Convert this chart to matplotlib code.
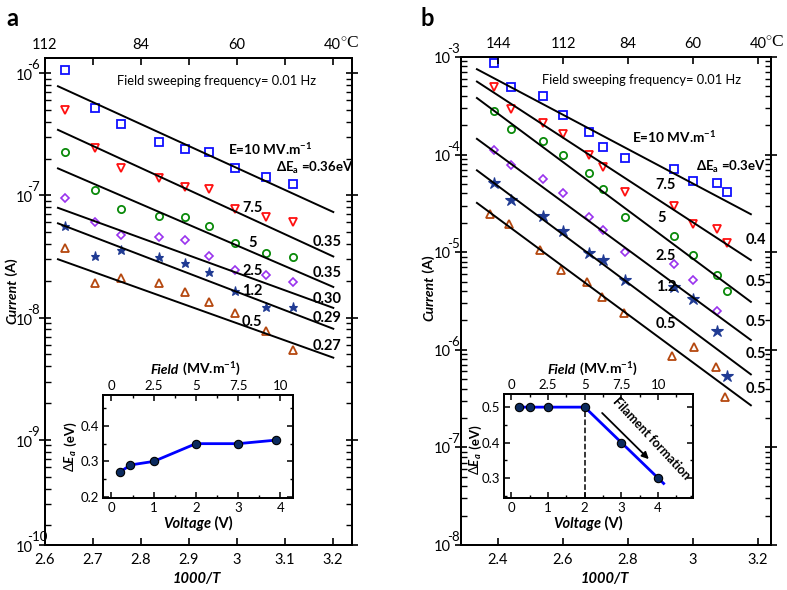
import numpy as np
import matplotlib
matplotlib.use("Agg")
import matplotlib.pyplot as plt
from matplotlib.ticker import FixedLocator, MultipleLocator, NullFormatter

plt.rcParams['font.family'] = ['Lato', 'DejaVu Sans']
plt.rcParams['mathtext.fontset'] = 'custom'
plt.rcParams['mathtext.rm'] = 'Lato'
plt.rcParams['mathtext.it'] = 'Lato:italic:bold'
plt.rcParams['mathtext.bf'] = 'Lato:bold'

# ---------------- data: panel a ----------------
xa = [2.642, 2.704, 2.759, 2.838, 2.892, 2.942, 2.997, 3.061, 3.118]
a_E10 = [1.06e-6, 5.2e-7, 3.8e-7, 2.75e-7, 2.4e-7, 2.26e-7, 1.66e-7, 1.41e-7, 1.23e-7]
a_E75 = [5.0e-7, 2.45e-7, 1.66e-7, 1.38e-7, 1.17e-7, 1.12e-7, 7.8e-8, 6.6e-8, 6.0e-8]
a_E5 = [2.24e-7, 1.10e-7, 7.8e-8, 6.8e-8, 6.6e-8, 5.6e-8, 4.1e-8, 3.4e-8, 3.1e-8]
a_E25 = [9.5e-8, 6.0e-8, 4.7e-8, 4.6e-8, 4.3e-8, 3.2e-8, 2.45e-8, 2.24e-8, 1.95e-8]
a_E12 = [5.6e-8, 3.2e-8, 3.6e-8, 3.1e-8, 2.8e-8, 2.35e-8, 1.66e-8, 1.23e-8, 1.23e-8]
a_E05 = [3.7e-8, 1.9e-8, 2.1e-8, 1.9e-8, 1.62e-8, 1.35e-8, 1.10e-8, 7.8e-9, 5.4e-9]
a_fit_x = [2.627, 3.201]
a_fit_start = [7.8e-7, 3.43e-7, 1.66e-7, 7.9e-8, 5.9e-8, 3.0e-8]
a_fit_end = [7.3e-8, 3.16e-8, 1.78e-8, 1.2e-8, 8.1e-9, 4.7e-9]
a_field_labels = ["7.5", "5", "2.5", "1.2", "0.5"]
a_dE_labels = ["0.35", "0.35", "0.30", "0.29", "0.27"]
a_xticks = [2.6, 2.7, 2.8, 2.9, 3.0, 3.1, 3.2]
a_xticklabels = ["2.6", "2.7", "2.8", "2.9", "3", "3.1", "3.2"]
a_top_ticks = [2.6, 2.8, 3.0, 3.2]
a_top_labels = ["112", "84", "60", "40"]
a_yexp = ["-6", "-7", "-8", "-9", "-10"]
a_volt = [0.2, 0.45, 1, 2, 3, 3.9]
a_dEa = [0.27, 0.29, 0.30, 0.35, 0.35, 0.36]

# ---------------- data: panel b ----------------
xb = [2.388, 2.44, 2.538, 2.6, 2.68, 2.723, 2.791, 2.942, 3.0, 3.074, 3.105]
xb_tri = [2.375, 2.434, 2.529, 2.594, 2.674, 2.72, 2.788, 2.935, 3.003, 3.071, 3.098]
b_E10 = [8.7e-4, 4.9e-4, 4.0e-4, 2.57e-4, 1.70e-4, 1.20e-4, 9.3e-5, 7.1e-5, 5.4e-5, 5.1e-5, 4.1e-5]
b_E75 = [4.9e-4, 2.9e-4, 2.1e-4, 1.62e-4, 1.0e-4, 7.4e-5, 4.1e-5, 3.0e-5, 1.95e-5, 1.74e-5, 1.23e-5]
b_E5 = [2.8e-4, 1.82e-4, 1.38e-4, 1.0e-4, 6.5e-5, 4.4e-5, 2.3e-5, 1.45e-5, 9.3e-6, 5.9e-6, 4.0e-6]
b_E25 = [1.12e-4, 7.9e-5, 5.6e-5, 4.0e-5, 2.3e-5, 1.7e-5, 1.0e-5, 7.6e-6, 5.2e-6, 2.5e-6]
b_E12 = [5.1e-5, 3.4e-5, 2.35e-5, 1.66e-5, 9.8e-6, 8.3e-6, 5.2e-6, 4.4e-6, 3.3e-6, 1.55e-6, 5.4e-7]
b_E05 = [2.45e-5, 1.95e-5, 1.05e-5, 6.6e-6, 5.0e-6, 3.5e-6, 2.4e-6, 8.7e-7, 1.07e-6, 6.6e-7, 3.3e-7]
b_fit_x = [2.335, 3.178]
b_fit_start = [7.5e-4, 5.6e-4, 3.8e-4, 1.45e-4, 6.9e-5, 3.2e-5]
b_fit_end = [2.45e-5, 8.3e-6, 3.1e-6, 1.26e-6, 5.6e-7, 2.7e-7]
b_field_labels = ["7.5", "5", "2.5", "1.2", "0.5"]
b_dE_labels = ["0.4", "0.5", "0.5", "0.5", "0.5"]
b_xticks = [2.4, 2.6, 2.8, 3.0, 3.2]
b_xticklabels = ["2.4", "2.6", "2.8", "3", "3.2"]
b_top_labels = ["144", "112", "84", "60", "40"]
b_yexp = ["-3", "-4", "-5", "-6", "-7", "-8"]
b_volt = [0.2, 0.5, 1, 2, 3, 4]
b_dEa = [0.5, 0.5, 0.5, 0.5, 0.4, 0.3]

inset_vticks = [0, 1, 2, 3, 4]
inset_field_labels = ["0", "2.5", "5", "7.5", "10"]

# ---------------- styles ----------------
C_SQ = '#1010ff'
C_TD = '#ff1010'
C_CI = '#0a8a0a'
C_DI = '#9933ee'
C_ST = '#1f3a93'
C_TU = '#b5480f'
C_INS = '#0000ff'

W, H = 787, 590
fig = plt.figure(figsize=(W / 100, H / 100), dpi=100)


def fx(px):
    return px / W


def fy(py):
    return 1 - py / H


axA = fig.add_axes([fx(45), fy(545), 307 / W, 487 / H])
axB = fig.add_axes([fx(461), fy(545), 310 / W, 488 / H])


def style_main(ax):
    for s in ax.spines.values():
        s.set_linewidth(1.4)
    ax.set_yscale('log')
    ax.tick_params(axis='both', which='both', direction='in', right=True, labelsize=10.5)
    ax.tick_params(axis='y', which='major', direction='inout', length=8, width=1.2)
    ax.tick_params(axis='y', which='minor', length=4, width=1.0)
    ax.tick_params(axis='x', which='major', length=5, width=1.2, pad=6)


def log_ticklabels(ax, ticks, exps, pad10, exp_dx, dy10, dyexp):
    ax.yaxis.set_major_locator(FixedLocator(ticks))
    ax.yaxis.set_major_formatter(NullFormatter())
    for t, e in zip(ticks, exps):
        ax.annotate('10', xy=(0, t), xycoords=('axes fraction', 'data'),
                    xytext=(-pad10, -dy10), textcoords='offset pixels',
                    ha='right', va='center', fontsize=10.5)
        ax.annotate(e, xy=(0, t), xycoords=('axes fraction', 'data'),
                    xytext=(-pad10 - exp_dx, dyexp), textcoords='offset pixels',
                    ha='left', va='center', fontsize=9.5)


def plot_series(ax, xs, series, xs_tri, star_ms):
    sq, td, ci, di, st, tu = series
    ax.plot(xs[:len(sq)], sq, 's', ms=5.4, mfc='none', mec=C_SQ, mew=1.3)
    ax.plot(xs[:len(td)], td, 'v', ms=5.5, mfc='none', mec=C_TD, mew=1.3)
    ax.plot(xs[:len(ci)], ci, 'o', ms=5.2, mfc='none', mec=C_CI, mew=1.3)
    ax.plot(xs[:len(di)], di, 'D', ms=4.3, mfc='none', mec=C_DI, mew=1.2)
    ax.plot(xs[:len(st)], st, '*', ms=star_ms, mfc=C_ST, mec=C_ST, mew=0.8)
    ax.plot(xs_tri[:len(tu)], tu, '^', ms=5.5, mfc='none', mec=C_TU, mew=1.3)


# ---------------- panel a ----------------
style_main(axA)
plot_series(axA, xa, [a_E10, a_E75, a_E5, a_E25, a_E12, a_E05], xa, 6.5)
for s0, s1 in zip(a_fit_start, a_fit_end):
    axA.plot(a_fit_x, [s0, s1], color='black', lw=1.4)
axA.set_xlim(2.6, 3.24)
a_ybot = 10 ** -9.86
a_ytop = 10 ** -5.877
axA.set_ylim(a_ybot, a_ytop)
axA.set_xticks(a_xticks)
axA.set_xticklabels(a_xticklabels)
log_ticklabels(axA, [1e-6, 1e-7, 1e-8, 1e-9, a_ybot], a_yexp, 12, 6, 3, 8)
minA = [m * 10.0 ** e for e in range(-10, -5) for m in range(2, 10)]
minA = [v for v in minA if a_ybot < v < a_ytop]
axA.yaxis.set_minor_locator(FixedLocator(minA))
axA.yaxis.set_minor_formatter(NullFormatter())

topA = axA.twiny()
topA.set_xlim(axA.get_xlim())
topA.set_xticks(a_top_ticks)
topA.set_xticklabels(a_top_labels)
topA.xaxis.set_minor_locator(FixedLocator([2.7, 2.9, 3.1]))
topA.tick_params(axis='x', which='both', direction='in', length=5, width=1.2, labelsize=10.5, pad=4)
for s in topA.spines.values():
    s.set_linewidth(1.4)

# ---------------- panel b ----------------
style_main(axB)
plot_series(axB, xb, [b_E10, b_E75, b_E5, b_E25, b_E12, b_E05], xb_tri, 9)
for s0, s1 in zip(b_fit_start, b_fit_end):
    axB.plot(b_fit_x, [s0, s1], color='black', lw=1.4)
axB.set_xlim(2.286, 3.24)
axB.set_ylim(1e-8, 1e-3)
axB.set_xticks(b_xticks)
axB.set_xticklabels(b_xticklabels)
log_ticklabels(axB, [1e-3, 1e-4, 1e-5, 1e-6, 1e-7, 1e-8], b_yexp, 10, 4, 2, 8)
minB = [m * 10.0 ** e for e in range(-8, -3) for m in range(2, 10)]
axB.yaxis.set_minor_locator(FixedLocator(minB))
axB.yaxis.set_minor_formatter(NullFormatter())

topB = axB.twiny()
topB.set_xlim(axB.get_xlim())
topB.set_xticks(b_xticks)
topB.set_xticklabels(b_top_labels)
topB.tick_params(axis='x', which='both', direction='in', length=5, width=1.2, labelsize=10.5, pad=4)
for s in topB.spines.values():
    s.set_linewidth(1.4)

# degree C marks
for ax_top, xpos in ((topA, a_top_ticks[-1]), (topB, b_xticks[-1])):
    ax_top.annotate(r'$^{\circ}$C', xy=(xpos, 1), xycoords=('data', 'axes fraction'),
                    xytext=(7, 6), textcoords='offset pixels', ha='left', va='bottom',
                    fontsize=12.5, family='Liberation Serif')

# ---------------- text annotations ----------------
for ax, fxp, fyp in ((axA, 0.235, 0.953), (axB, 0.261, 0.953)):
    ax.text(fxp, fyp, 'Field sweeping frequency= 0.01 Hz', transform=ax.transAxes,
            fontsize=9.3, ha='left', va='center')

axA.text(0.596, 0.813, r'E=10 MV.m$^{\mathbf{-1}}$', transform=axA.transAxes,
         fontsize=9.8, fontweight='bold', ha='left', va='center')
axA.text(0.752, 0.774, r'ΔE$_{\mathbf{a}}$ =0.36eV', transform=axA.transAxes,
         fontsize=9.5, fontweight='bold', ha='left', va='center')
a_fl_y = [0.692, 0.620, 0.563, 0.522, 0.458]
a_fl_x = [0.642, 0.661, 0.642, 0.642, 0.642]
for lab, xx, yy in zip(a_field_labels, a_fl_x, a_fl_y):
    axA.text(xx, yy, lab, transform=axA.transAxes, fontsize=10.5, fontweight='bold', ha='left', va='center')
a_dl_y = [0.622, 0.559, 0.505, 0.466, 0.409]
for lab, yy in zip(a_dE_labels, a_dl_y):
    axA.text(0.873, yy, lab, transform=axA.transAxes, fontsize=10.5, fontweight='bold', ha='left', va='center')

axB.text(0.552, 0.836, r'E=10 MV.m$^{\mathbf{-1}}$', transform=axB.transAxes,
         fontsize=9.8, fontweight='bold', ha='left', va='center')
axB.text(0.758, 0.775, r'ΔE$_{\mathbf{a}}$ =0.3eV', transform=axB.transAxes,
         fontsize=9.5, fontweight='bold', ha='left', va='center')
b_fl_y = [0.738, 0.670, 0.592, 0.529, 0.453]
b_fl_x = [0.626, 0.632, 0.629, 0.629, 0.629]
for lab, xx, yy in zip(b_field_labels, b_fl_x, b_fl_y):
    axB.text(xx, yy, lab, transform=axB.transAxes, fontsize=10.5, fontweight='bold', ha='left', va='center')
b_dl_y = [0.625, 0.539, 0.457, 0.391, 0.320]
for lab, yy in zip(b_dE_labels, b_dl_y):
    axB.text(0.919, yy, lab, transform=axB.transAxes, fontsize=10.5, fontweight='bold', ha='left', va='center')

# ---------------- insets ----------------
def style_inset(ax, xlim, ylim, yticks, ylabels):
    for s in ax.spines.values():
        s.set_linewidth(1.3)
    ax.set_xlim(*xlim)
    ax.set_ylim(*ylim)
    ax.set_xticks(inset_vticks)
    ax.xaxis.set_minor_locator(MultipleLocator(0.5))
    ax.set_yticks(yticks)
    ax.set_yticklabels(ylabels)
    ax.yaxis.set_minor_locator(MultipleLocator(0.05))
    ax.tick_params(axis='both', which='both', direction='in', right=True, labelsize=9.5)
    ax.tick_params(axis='both', which='major', length=4, width=1.1, pad=3)
    ax.tick_params(axis='both', which='minor', length=2.5, width=1.0)
    t = ax.twiny()
    t.set_xlim(ax.get_xlim())
    t.set_xticks(inset_vticks)
    t.set_xticklabels(inset_field_labels)
    t.xaxis.set_minor_locator(MultipleLocator(0.5))
    t.tick_params(axis='x', which='both', direction='in', labelsize=9.5, pad=2)
    t.tick_params(axis='x', which='major', length=4, width=1.1)
    t.tick_params(axis='x', which='minor', length=2.5, width=1.0)
    for s in t.spines.values():
        s.set_linewidth(1.3)


insA = fig.add_axes([fx(103), fy(498), 190 / W, 103 / H])
insA.plot(a_volt, a_dEa, '-', color=C_INS, lw=2.0, zorder=2)
insA.plot(a_volt, a_dEa, 'o', ms=6, mfc='#0b2a5e', mec='black', mew=0.8, zorder=3)
style_inset(insA, (-0.2, 4.3), (0.197, 0.487), [0.2, 0.3, 0.4], ['0.2', '0.3', '0.4'])

insB = fig.add_axes([fx(504), fy(498), 189 / W, 104 / H])
slope = (b_dEa[-1] - b_dEa[-2]) / (b_volt[-1] - b_volt[-2])
ext_v = b_volt[-1] + 0.15
line_v = list(b_volt) + [ext_v]
line_e = list(b_dEa) + [b_dEa[-1] + slope * 0.15]
insB.plot(line_v, line_e, '-', color=C_INS, lw=2.0, zorder=2)
insB.plot(b_volt, b_dEa, 'o', ms=6, mfc='#0b2a5e', mec='black', mew=0.8, zorder=3)
style_inset(insB, (-0.2, 4.95), (0.244, 0.537), [0.3, 0.4, 0.5], ['0.3', '0.4', '0.5'])
insB.plot([b_volt[3], b_volt[3]], [0.244, b_dEa[3]], '--', color='black', lw=1.1, zorder=1)
insB.annotate('', xy=(3.80, 0.348), xytext=(2.42, 0.489),
              arrowprops=dict(arrowstyle='-|>', color='black', lw=1.3, mutation_scale=10))
insB.text(3.81, 0.412, 'Filament formation', fontsize=9, fontweight='bold',
          rotation=-47, ha='center', va='center', rotation_mode='anchor')

# ---------------- axis titles (figure pixel positions) ----------------
def two_h(xsplit, ybase, p1, p2, fs):
    fig.text(fx(xsplit), fy(ybase), p1, fontsize=fs, fontweight='bold', fontstyle='italic',
             ha='right', va='baseline')
    fig.text(fx(xsplit), fy(ybase), p2, fontsize=fs, fontweight='bold', ha='left', va='baseline')


def two_v(xc, ysplit, p1, p2, fs):
    fig.text(fx(xc), fy(ysplit), p1, fontsize=fs, fontweight='bold', fontstyle='italic',
             rotation=90, ha='center', va='top')
    fig.text(fx(xc), fy(ysplit), p2, fontsize=fs, fontweight='bold', rotation=90,
             ha='center', va='bottom')


two_h(179, 374, 'Field', r' (MV.m$^{\mathbf{-1}}$)', 10)
two_h(576, 374, 'Field', r' (MV.m$^{\mathbf{-1}}$)', 10)
two_h(211, 528, 'Voltage', ' (V)', 10.5)
two_h(601, 528, 'Voltage', ' (V)', 10.5)
two_v(12, 279, 'Current', ' (A)', 10)
two_v(429, 276, 'Current', ' (A)', 10)
for xc, ys in ((71, 449), (476, 452)):
    fig.text(fx(xc), fy(ys), r'$\Delta E_a$', fontsize=9.5, rotation=90, ha='center', va='top')
    fig.text(fx(xc), fy(ys), ' (eV)', fontsize=9.5, fontweight='bold', rotation=90,
             ha='center', va='bottom')
fig.text(fx(197), fy(579), '1000/T', fontsize=10.5, fontweight='bold', fontstyle='italic', ha='center', va='center')
fig.text(fx(605), fy(579), '1000/T', fontsize=10.5, fontweight='bold', fontstyle='italic', ha='center', va='center')

fig.text(fx(12), fy(18), 'a', fontsize=17, fontweight='bold', ha='center', va='center')
fig.text(fx(427), fy(18), 'b', fontsize=17, fontweight='bold', ha='center', va='center')

fig.savefig('out.png', dpi=100)
